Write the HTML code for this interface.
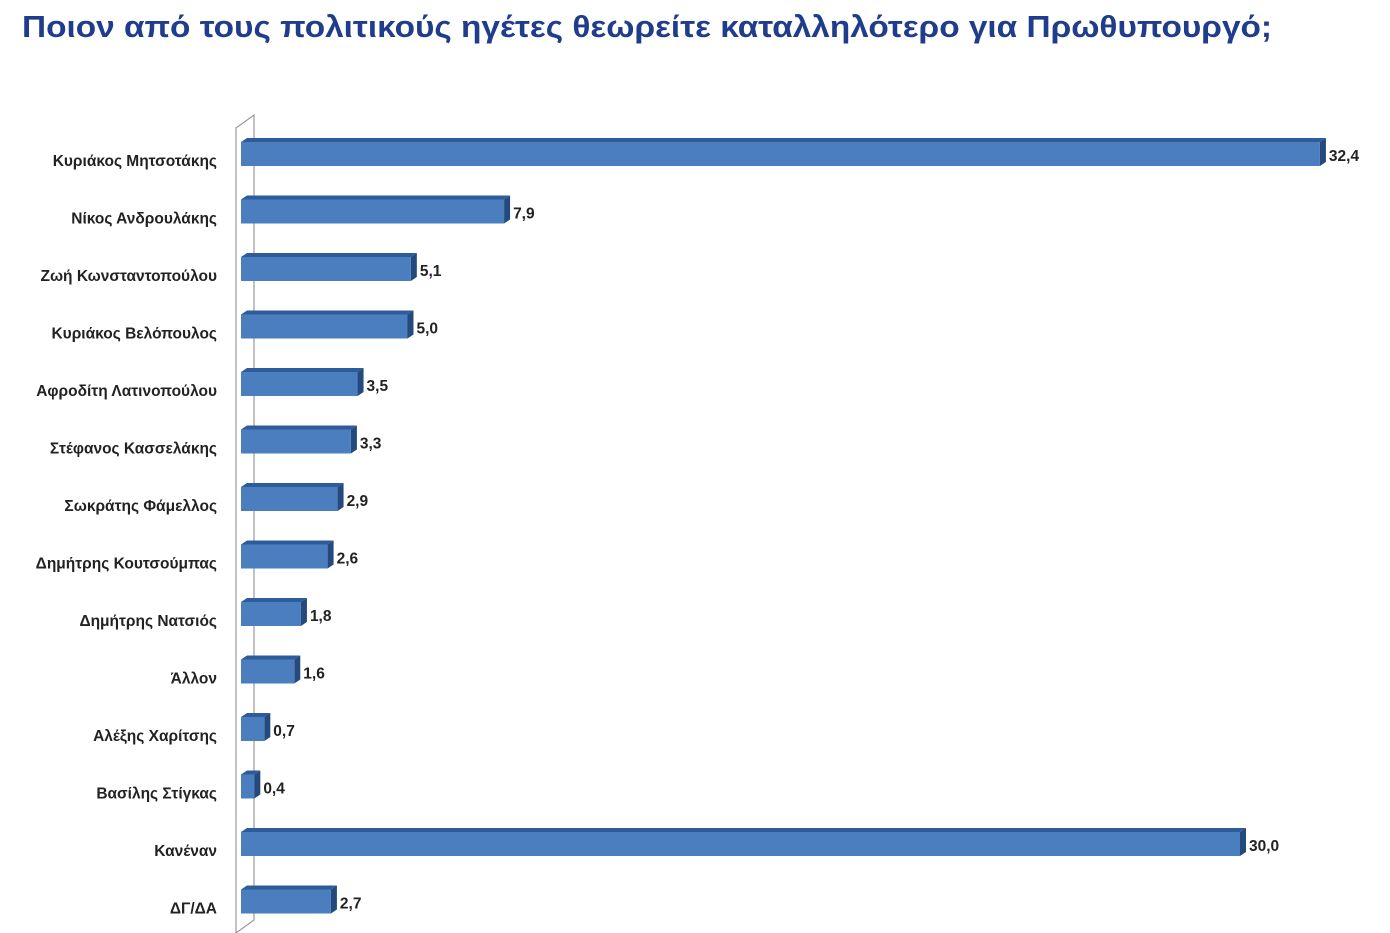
<!DOCTYPE html>
<html><head><meta charset="utf-8"><style>
body{margin:0;background:#fff;}
svg{display:block}
text{font-family:"Liberation Sans","DejaVu Sans",sans-serif;}
</style></head><body>
<svg width="1390" height="933" xmlns="http://www.w3.org/2000/svg">
<text x="22" y="37" font-size="31" font-weight="bold" fill="#1f3d8c" textLength="1250" lengthAdjust="spacingAndGlyphs">Ποιον από τους πολιτικούς ηγέτες θεωρείτε καταλληλότερο για Πρωθυπουργό;</text>
<polygon points="236,128 254,115 254,920 236,933" fill="#fff" stroke="#999" stroke-width="1.2"/>
<g id="bars"></g>
</svg>
<script>
const d=[["Κυριάκος Μητσοτάκης",32.4,"32,4"],["Νίκος Ανδρουλάκης",7.9,"7,9"],["Ζωή Κωνσταντοπούλου",5.1,"5,1"],["Κυριάκος Βελόπουλος",5.0,"5,0"],["Αφροδίτη Λατινοπούλου",3.5,"3,5"],["Στέφανος Κασσελάκης",3.3,"3,3"],["Σωκράτης Φάμελλος",2.9,"2,9"],["Δημήτρης Κουτσούμπας",2.6,"2,6"],["Δημήτρης Νατσιός",1.8,"1,8"],["Άλλον",1.6,"1,6"],["Αλέξης Χαρίτσης",0.7,"0,7"],["Βασίλης Στίγκας",0.4,"0,4"],["Κανέναν",30.0,"30,0"],["ΔΓ/ΔΑ",2.7,"2,7"]];
let s="";
d.forEach((r,i)=>{const c=153+i*57.5;const x0=241,x1=x0+r[1]*33.3;const t=c-11,b=c+13;
s+=`<polygon points="${x0},${t} ${x0+6},${t-4} ${x1+6},${t-4} ${x1},${t}" fill="#2e5c9a"/>`;
s+=`<polygon points="${x1},${t} ${x1+6},${t-4} ${x1+6},${b-4} ${x1},${b}" fill="#24497d"/>`;
s+=`<rect x="${x0}" y="${t}" width="${x1-x0}" height="${b-t}" fill="#4a7ebf"/>`;
s+=`<text x="217" y="${c+13}" font-size="15.5" font-weight="bold" fill="#222" text-anchor="end">${r[0]}</text>`;
s+=`<text x="${x1+9}" y="${c+8}" font-size="15.5" font-weight="bold" fill="#222">${r[2]}</text>`;});
document.getElementById("bars").innerHTML=s;
</script>
</body></html>
